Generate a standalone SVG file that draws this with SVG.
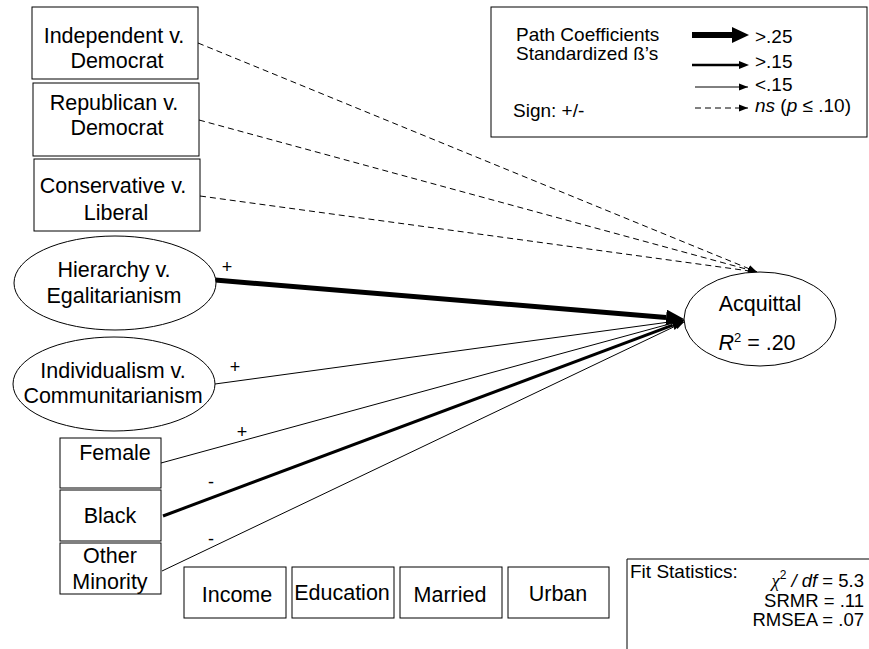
<svg xmlns="http://www.w3.org/2000/svg" width="869" height="649" viewBox="0 0 869 649">
<style>
text{font-family:"Liberation Sans",Arial,sans-serif;fill:#000}
.lbl{font-size:21.5px;text-anchor:middle}
.leg{font-size:19px}
.fit{font-size:18.5px;text-anchor:end}
.sgn{font-size:18px;text-anchor:middle}
.box{fill:#fff;stroke:#000;stroke-width:1}
.c{fill:none;stroke:#000}
.thin{stroke-width:1}
.dash{stroke-width:1;stroke-dasharray:6 4}
.thick{stroke-width:5}
.med{stroke-width:3}
</style>
<defs>
<marker id="hThin" markerUnits="userSpaceOnUse" markerWidth="12" markerHeight="10" refX="9" refY="4" orient="auto" viewBox="0 0 12 10"><path d="M0,0.5 L9,4 L0,7.5 Z" fill="#000"/></marker>
<marker id="hMed" markerUnits="userSpaceOnUse" markerWidth="14" markerHeight="12" refX="0" refY="5" orient="auto" viewBox="0 0 14 12"><path d="M0,0 L12,5 L0,10 Z" fill="#000"/></marker>
<marker id="hThick" markerUnits="userSpaceOnUse" markerWidth="20" markerHeight="18" refX="0" refY="8" orient="auto" viewBox="0 0 20 18"><path d="M0,0 L18,8 L0,16 Z" fill="#000"/></marker>
</defs>

<g id="connectors">
<line class="c dash" x1="198" y1="43" x2="757" y2="272" marker-end="url(#hThin)"/>
<line class="c dash" x1="199" y1="120" x2="757" y2="272" marker-end="url(#hThin)"/>
<line class="c dash" x1="200" y1="196" x2="757" y2="272" marker-end="url(#hThin)"/>
<line class="c thick" x1="215" y1="280" x2="666.1" y2="317.5" marker-end="url(#hThick)"/>
<line class="c thin" x1="215" y1="384" x2="684" y2="320" marker-end="url(#hThin)"/>
<line class="c thin" x1="161" y1="463" x2="684" y2="320" marker-end="url(#hThin)"/>
<line class="c med" x1="163" y1="516" x2="672.8" y2="325.2" marker-end="url(#hMed)"/>
<line class="c thin" x1="162" y1="571" x2="684" y2="322" marker-end="url(#hThin)"/>
<text class="sgn" x="227" y="273">+</text>
<text class="sgn" x="235" y="373">+</text>
<text class="sgn" x="242" y="438">+</text>
<text class="sgn" x="211" y="488">-</text>
<text class="sgn" x="211" y="545">-</text>
</g>

<g id="independent">
<rect class="box" x="32" y="7" width="166" height="72"/>
<text class="lbl" x="114" y="43">Independent v.</text>
<text class="lbl" x="117" y="68">Democrat</text>
</g>
<g id="republican">
<rect class="box" x="33" y="83" width="166" height="73"/>
<text class="lbl" x="114" y="110">Republican v.</text>
<text class="lbl" x="117" y="135">Democrat</text>
</g>
<g id="conservative">
<rect class="box" x="34" y="159" width="166" height="72"/>
<text class="lbl" x="113" y="193">Conservative v.</text>
<text class="lbl" x="116" y="220">Liberal</text>
</g>
<g id="hierarchy">
<ellipse class="box" cx="115" cy="283" rx="101" ry="47"/>
<text class="lbl" x="114" y="277">Hierarchy v.</text>
<text class="lbl" x="114" y="303">Egalitarianism</text>
</g>
<g id="individualism">
<ellipse class="box" cx="114" cy="384" rx="101" ry="47"/>
<text class="lbl" x="113" y="378">Individualism v.</text>
<text class="lbl" x="113" y="403">Communitarianism</text>
</g>
<g id="female">
<rect class="box" x="60" y="438" width="101" height="50"/>
<text class="lbl" x="115" y="460">Female</text>
</g>
<g id="black">
<rect class="box" x="60" y="490" width="101" height="51"/>
<text class="lbl" x="110" y="523">Black</text>
</g>
<g id="other-minority">
<rect class="box" x="60" y="543" width="101" height="51"/>
<text class="lbl" x="110" y="563">Other</text>
<text class="lbl" x="110" y="589">Minority</text>
</g>
<g id="income">
<rect class="box" x="184" y="567" width="102" height="51"/>
<text class="lbl" x="237" y="602">Income</text>
</g>
<g id="education">
<rect class="box" x="292" y="567" width="102" height="51"/>
<text class="lbl" x="342" y="600">Education</text>
</g>
<g id="married">
<rect class="box" x="400" y="567" width="102" height="51"/>
<text class="lbl" x="450" y="602">Married</text>
</g>
<g id="urban">
<rect class="box" x="508" y="567" width="101" height="51"/>
<text class="lbl" x="558" y="601">Urban</text>
</g>
<g id="acquittal">
<ellipse class="box" cx="760" cy="319" rx="76" ry="47"/>
<text class="lbl" x="760" y="311">Acquittal</text>
<text class="lbl" x="757" y="350"><tspan font-style="italic">R</tspan><tspan font-size="13" dy="-8">2</tspan><tspan dy="8"> = .20</tspan></text>
</g>

<g id="legend">
<rect class="box" x="491" y="7" width="376" height="130"/>
<text class="leg" x="516" y="41">Path Coefficients</text>
<text class="leg" x="516" y="60">Standardized ß’s</text>
<text class="leg" x="513" y="117">Sign: +/-</text>
<line class="c" stroke-width="6" x1="692" y1="35" x2="733" y2="35"/>
<path d="M732,27 L749,35 L732,43 Z" fill="#000"/>
<line class="c" stroke-width="2.5" x1="692" y1="65" x2="740" y2="65"/>
<path d="M739,61 L749,65 L739,69 Z" fill="#000"/>
<line class="c thin" x1="695" y1="87" x2="748" y2="87" marker-end="url(#hThin)"/>
<line class="c dash" stroke-dasharray="5 4" x1="695" y1="108" x2="748" y2="108" marker-end="url(#hThin)"/>
<text class="leg" x="755" y="43">&gt;.25</text>
<text class="leg" x="755" y="68">&gt;.15</text>
<text class="leg" x="755" y="91">&lt;.15</text>
<text class="leg" x="755" y="112"><tspan font-style="italic">ns</tspan> (<tspan font-style="italic">p</tspan> ≤ .10)</text>
</g>

<g id="fit-statistics">
<path d="M869,559 H627 V649" fill="none" stroke="#000" stroke-width="1"/>
<text class="leg" x="630" y="578">Fit Statistics:</text>
<text class="fit" x="864" y="587"><tspan font-family="'Liberation Serif',serif" font-style="italic">χ</tspan><tspan font-size="12" dy="-8">2</tspan><tspan dy="8" font-style="italic"> / df</tspan> = 5.3</text>
<text class="fit" x="864" y="607">SRMR = .11</text>
<text class="fit" x="864" y="626">RMSEA = .07</text>
</g>
</svg>
